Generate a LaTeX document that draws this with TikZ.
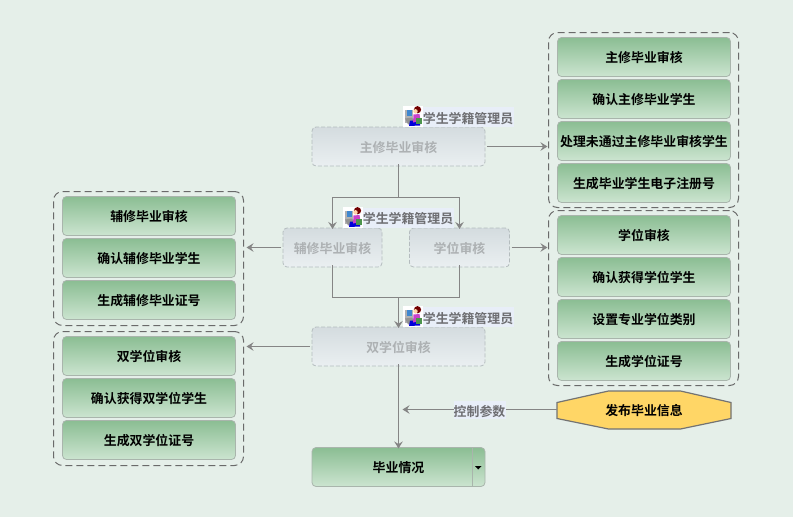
\documentclass[tikz,border=0pt]{standalone}
\usepackage{fontspec}
\setmainfont{Noto Sans CJK SC}[BoldFont={Noto Sans CJK SC Bold}]
\usetikzlibrary{arrows.meta,shadings}
\definecolor{bgc}{HTML}{E5EFE9}
\definecolor{linec}{HTML}{858585}
\definecolor{lblbg}{HTML}{E8EEF8}
\definecolor{lbltxt}{HTML}{6E6E72}
\definecolor{greentop}{HTML}{8BBD93}
\definecolor{greenbot}{HTML}{CCE5D0}
\definecolor{greenline}{HTML}{A9B5AC}
\definecolor{offtop}{HTML}{D4DCDF}
\definecolor{offbot}{HTML}{EAEFF1}
\definecolor{offline}{HTML}{B4BCBE}
\definecolor{offtxt}{HTML}{ADB1B3}
\definecolor{groupline}{HTML}{6A6A6A}
\tikzset{
  x=1pt,y=-1pt,
  txt/.style={font=\fontsize{12.9}{14}\selectfont\bfseries,inner sep=0pt,outer sep=0pt,align=center,text height=14.4pt,text depth=2pt},
  greenbox/.style={txt,text height=12.6pt,text=black,draw=greenline,line width=.8pt,rounded corners=4pt,
     top color=greentop,bottom color=greenbot,
     minimum width=173pt,minimum height=39pt},
  offbox/.style={txt,text=offtxt,draw=offline,dash pattern=on 4pt off 2pt,line width=.8pt,rounded corners=4pt,
     top color=offtop,bottom color=offbot,minimum height=39pt},
  groupbox/.style={inner sep=0pt,outer sep=0pt,draw=groupline,line width=1pt,dash pattern=on 7pt off 4pt,rounded corners=9pt,minimum width=190pt},
  roletext/.style={txt,text=lbltxt,fill=lblbg,minimum width=91pt,minimum height=20pt},
  link/.style={draw=linec,line width=1.15pt},
  arrowlink/.style={link,-{Stealth[length=7pt,width=8.5pt,inset=2.5pt]}},
  pics/roleicon/.style={code={
    \fill[white] (0,0) rectangle (20,21);
    \fill[gray!60] (2,4) rectangle (10,17);
    \fill[cyan!55!blue!80] (3.7,4.8) rectangle (8.8,10);
    \fill[gray!85] (2,13) -- (9,12) -- (12,18) -- (5,19) -- cycle;
    \fill[blue!85!black] (7,15) -- (17,15) -- (17,20) -- (6,20.5) -- cycle;
    \fill[violet!55!magenta!75] (10.5,9) -- (16.5,8.5) -- (17.5,15.5) -- (10,17) -- cycle;
    \fill[green!40!black!70] (13,12) rectangle (19,18.5);
    \fill[red!45!black] (14.5,4.2) circle (3.6);
    \fill[orange!35!white] (12.5,5.8) circle (2.2);
  }},
}
\begin{document}
\begin{tikzpicture}
\useasboundingbox[fill=bgc] (-0.5,-0.5) rectangle (792.5,516.5);
% groups
\node[groupbox,minimum height=175pt] (g1) at (643,119.5) {};
\node[groupbox,minimum height=175pt] (g2) at (643,297.5) {};
\node[groupbox,minimum height=134pt] (g3) at (148,258) {};
\node[groupbox,minimum height=134pt] (g4) at (148,398) {};
% right items
\node[greenbox] (a1) at (643.5,56.5) {主修毕业审核};
\node[greenbox] (a2) at (643.5,98.5) {确认主修毕业学生};
\node[greenbox] (a3) at (643.5,140.5) {处理未通过主修毕业审核学生};
\node[greenbox] (a4) at (643.5,182.5) {生成毕业学生电子注册号};
\node[greenbox] (b1) at (643.5,234.5) {学位审核};
\node[greenbox] (b2) at (643.5,276.5) {确认获得学位学生};
\node[greenbox] (b3) at (643.5,318.5) {设置专业学位类别};
\node[greenbox] (b4) at (643.5,360.5) {生成学位证号};
% left items
\node[greenbox] (c1) at (148.5,215.5) {辅修毕业审核};
\node[greenbox] (c2) at (148.5,257.5) {确认辅修毕业学生};
\node[greenbox] (c3) at (148.5,299.5) {生成辅修毕业证号};
\node[greenbox] (d1) at (148.5,355.5) {双学位审核};
\node[greenbox] (d2) at (148.5,397.5) {确认获得双学位学生};
\node[greenbox] (d3) at (148.5,439.5) {生成双学位证号};
% process boxes
\node[offbox,minimum width=173pt] (main) at (398,146) {主修毕业审核};
\node[offbox,minimum width=99pt] (minor) at (332,247) {辅修毕业审核};
\node[offbox,minimum width=100pt] (degree) at (459,247) {学位审核};
\node[offbox,minimum width=173pt] (dual) at (398,346) {双学位审核};
\node[greenbox] (result) at (398,466.5) {毕业情况};
\draw[draw=greenline,line width=.8pt] (472.2,447) -- (472.2,486);
\fill[black] (474.5,465.5) -- (481,465.5) -- (477.7,469) -- cycle;
% publish
\fill[draw=gray!90!black,line width=1.2pt,fill={rgb,255:red,255;green,214;blue,102}]
  (556.5,402) -- (608,390.5) -- (680,390.5) -- (730.5,402) -- (730.5,418) -- (680,428.5) -- (608,428.5) -- (556.5,418) -- cycle;
\node[txt,minimum width=175pt,minimum height=38pt,text=black] (pub) at (643.5,409) {发布毕业信息};
% connectors
\coordinate (split) at (398,197);
\coordinate (merge) at (398,297);
\draw[link] ([yshift=2pt]main.south) -- (split);
\draw[arrowlink] (split) -| ([yshift=-1pt]minor.north);
\draw[arrowlink] (split) -| ([yshift=-1pt]degree.north);
\draw[link] ([yshift=2pt]minor.south) |- (merge);
\draw[link] ([yshift=2pt]degree.south) |- (merge);
\draw[arrowlink] (merge) -- ([yshift=-1pt]dual.north);
\draw[arrowlink] ([xshift=2pt]main.east) -- ([xshift=-1pt]main.east -| g1.west);
\draw[arrowlink] ([xshift=2pt]degree.east) -- ([xshift=-1pt]degree.east -| g2.west);
\draw[arrowlink] ([xshift=-2pt]minor.west) -- ([xshift=3pt]minor.west -| g3.east);
\draw[arrowlink] ([xshift=-2pt]dual.west) -- ([xshift=3pt]dual.west -| g4.east);
\draw[arrowlink] ([yshift=2pt]dual.south) -- ([yshift=-1pt]result.north);
\coordinate (ctrlend) at (402,409);
\draw[arrowlink,line width=1pt] (pub.west) -- (ctrlend);
\node[txt,text=lbltxt,fill=lblbg,minimum width=52pt,minimum height=18pt] (ctrl) at (479,409.5) {控制参数};
% role labels
\node[roletext] (r1) at (467.5,116.5) {学生学籍管理员};
\path (402.5,105) pic {roleicon};
\node[roletext] (r2) at (407.5,217) {学生学籍管理员};
\path (342.5,206) pic {roleicon};
\node[roletext] (r3) at (467.5,316.5) {学生学籍管理员};
\path (402.5,305) pic {roleicon};
\end{tikzpicture}
\end{document}
